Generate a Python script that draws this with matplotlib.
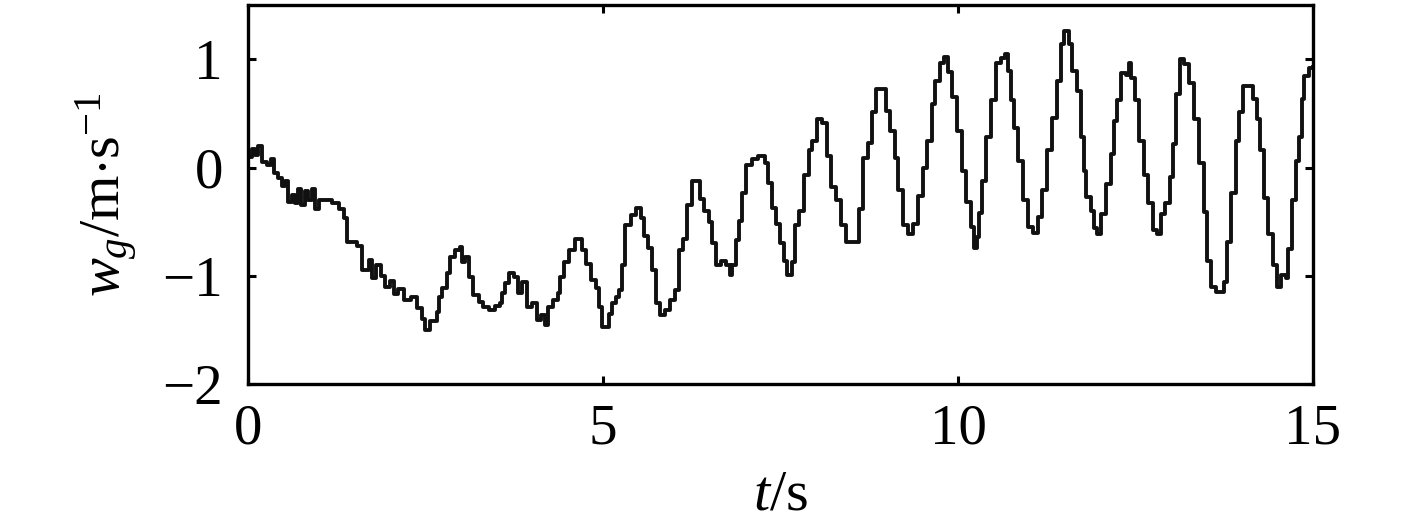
import matplotlib
matplotlib.use("Agg")
import matplotlib.pyplot as plt

# gust velocity (staircase signal)
t_s = [0.0, 0.06, 0.1, 0.14, 0.2, 0.27, 0.32, 0.36, 0.42, 0.48, 0.52, 0.57, 0.62, 0.66, 0.7,
       0.74, 0.8, 0.84, 0.9, 0.95, 1.0, 1.18, 1.28, 1.35, 1.4, 1.53, 1.6, 1.7, 1.74, 1.8,
       1.87, 1.93, 2.0, 2.05, 2.12, 2.2, 2.3, 2.38, 2.45, 2.5, 2.56, 2.66, 2.69, 2.73, 2.8,
       2.85, 2.92, 2.98, 3.01, 3.06, 3.12, 3.17, 3.25, 3.31, 3.4, 3.48, 3.55, 3.58, 3.62, 3.68,
       3.75, 3.8, 3.86, 3.93, 4.0, 4.07, 4.13, 4.19, 4.23, 4.3, 4.36, 4.39, 4.45, 4.52, 4.6,
       4.7, 4.76, 4.83, 4.9, 4.95, 4.99, 5.08, 5.12, 5.18, 5.23, 5.27, 5.31, 5.4, 5.47, 5.53,
       5.58, 5.64, 5.69, 5.74, 5.8, 5.88, 5.95, 6.02, 6.07, 6.13, 6.18, 6.25, 6.36, 6.42, 6.49,
       6.54, 6.59, 6.66, 6.73, 6.79, 6.82, 6.87, 6.92, 6.96, 7.02, 7.1, 7.18, 7.28, 7.33, 7.38,
       7.44, 7.5, 7.55, 7.59, 7.66, 7.7, 7.76, 7.83, 7.9, 7.95, 8.01, 8.08, 8.15, 8.21, 8.28,
       8.35, 8.42, 8.6, 8.66, 8.73, 8.79, 8.85, 8.98, 9.04, 9.11, 9.16, 9.23, 9.3, 9.37, 9.44,
       9.51, 9.56, 9.63, 9.68, 9.74, 9.8, 9.86, 9.92, 9.98, 10.05, 10.11, 10.18, 10.23, 10.27, 10.3,
       10.34, 10.4, 10.46, 10.53, 10.6, 10.66, 10.7, 10.74, 10.79, 10.85, 10.92, 10.99, 11.06, 11.13, 11.18,
       11.25, 11.32, 11.39, 11.45, 11.5, 11.56, 11.61, 11.67, 11.73, 11.78, 11.81, 11.87, 11.92, 11.96, 12.02,
       12.08, 12.15, 12.2, 12.24, 12.29, 12.37, 12.41, 12.44, 12.49, 12.55, 12.62, 12.68, 12.74, 12.8, 12.86,
       12.92, 12.99, 13.03, 13.07, 13.12, 13.18, 13.25, 13.32, 13.39, 13.46, 13.51, 13.57, 13.64, 13.74, 13.79,
       13.85, 13.91, 13.96, 14.02, 14.16, 14.21, 14.26, 14.31, 14.37, 14.43, 14.49, 14.55, 14.62, 14.65, 14.7,
       14.76, 14.8, 14.84, 14.88, 14.94, 15.0]
w_g = [0.1, 0.17, 0.12, 0.2, 0.05, 0.02, 0.08, -0.05, -0.1, -0.17, -0.12, -0.32, -0.25, -0.33, -0.2,
       -0.35, -0.22, -0.3, -0.2, -0.38, -0.3, -0.33, -0.38, -0.47, -0.69, -0.72, -0.95, -0.85, -1.02, -0.9,
       -1.0, -1.1, -1.05, -1.17, -1.12, -1.22, -1.2, -1.3, -1.4, -1.5, -1.42, -1.33, -1.2, -1.11, -0.97,
       -0.83, -0.76, -0.73, -0.87, -0.83, -1.01, -1.18, -1.24, -1.29, -1.32, -1.28, -1.25, -1.16, -1.07, -0.97,
       -1.01, -1.16, -1.06, -1.29, -1.25, -1.41, -1.36, -1.45, -1.29, -1.22, -1.16, -1.01, -0.87, -0.76, -0.66,
       -0.76, -0.89, -1.04, -1.11, -1.29, -1.47, -1.35, -1.25, -1.2, -1.13, -0.9, -0.53, -0.44, -0.37, -0.47,
       -0.63, -0.74, -0.95, -1.25, -1.36, -1.32, -1.22, -1.13, -0.76, -0.66, -0.35, -0.12, -0.29, -0.4, -0.5,
       -0.7, -0.9, -0.86, -0.9, -0.99, -0.9, -0.67, -0.49, -0.23, 0.02, 0.08, 0.11, 0.04, -0.14, -0.37,
       -0.52, -0.7, -0.86, -0.99, -0.87, -0.53, -0.4, -0.07, 0.16, 0.25, 0.45, 0.41, 0.11, -0.18, -0.3,
       -0.53, -0.69, -0.38, 0.09, 0.23, 0.51, 0.73, 0.52, 0.34, 0.09, -0.21, -0.53, -0.61, -0.52, -0.26,
       0.0, 0.25, 0.59, 0.8, 0.97, 1.02, 0.88, 0.65, 0.34, -0.03, -0.32, -0.55, -0.74, -0.64, -0.42,
       -0.12, 0.28, 0.62, 0.97, 1.01, 1.05, 0.89, 0.62, 0.37, 0.06, -0.3, -0.55, -0.6, -0.46, -0.21,
       0.16, 0.46, 0.8, 1.14, 1.26, 1.14, 0.89, 0.71, 0.28, -0.03, -0.27, -0.4, -0.56, -0.61, -0.43,
       -0.15, 0.13, 0.43, 0.62, 0.87, 0.86, 0.97, 0.83, 0.62, 0.25, -0.07, -0.33, -0.58, -0.61, -0.43,
       -0.33, -0.09, 0.22, 0.68, 1.0, 0.96, 0.78, 0.45, 0.04, -0.41, -0.86, -1.1, -1.15, -1.06, -0.69,
       -0.23, 0.25, 0.51, 0.75, 0.63, 0.45, 0.16, -0.28, -0.61, -0.9, -1.1, -0.99, -1.02, -0.75, -0.3,
       0.06, 0.28, 0.63, 0.85, 0.92, 0.93]

x_ticks = [0, 5, 10, 15]
y_ticks = [-2, -1, 0, 1]

plt.rcParams['font.family'] = ['Liberation Serif', 'DejaVu Serif']
plt.rcParams['mathtext.fontset'] = 'custom'
plt.rcParams['mathtext.rm'] = 'Liberation Serif'
plt.rcParams['mathtext.it'] = 'Liberation Serif:italic'

fig = plt.figure(figsize=(14.17, 5.24), dpi=100)
ax = fig.add_axes([0.175, 0.267, 0.7516, 0.723])

ax.plot(t_s, w_g, color='#111111', lw=2.8, drawstyle='steps-post')

ax.set_xlim(0, 15)
ax.set_ylim(-2, 1.5)
ax.set_xticks(x_ticks)
ax.set_yticks(y_ticks)
ax.tick_params(direction='in', length=6, width=2.2, top=True, right=True,
               labelsize=41)
ax.tick_params(axis='x', pad=14)
ax.tick_params(axis='y', pad=18)
for sp in ax.spines.values():
    sp.set_linewidth(2.4)

ax.set_xlabel(r'$t$/s', fontsize=42, labelpad=10)
ax.set_ylabel(r'$w_g$/m$\cdot$s$^{-1}$', fontsize=42, labelpad=16)

fig.savefig('out.png', dpi=100)
